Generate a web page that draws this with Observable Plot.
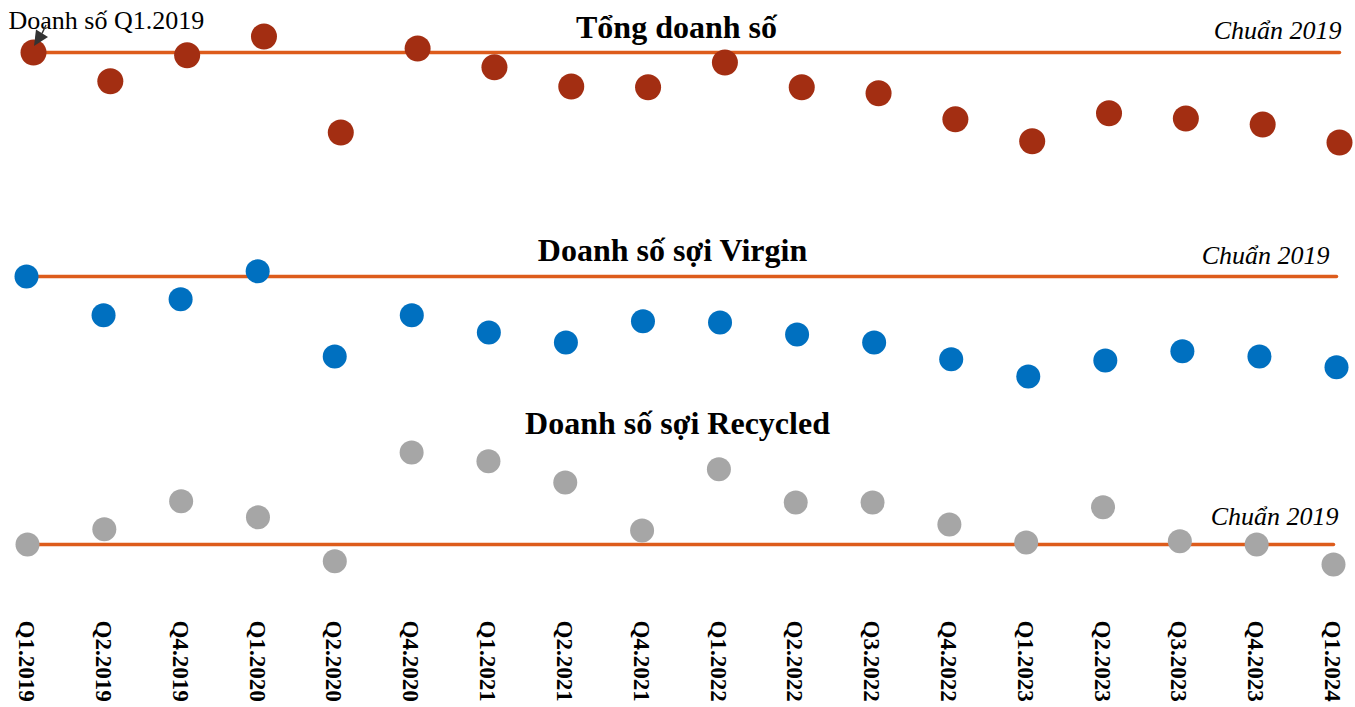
<!DOCTYPE html>
<html>
<head>
<meta charset="utf-8">
<script src="https://cdn.jsdelivr.net/npm/d3@7"></script>
<script src="https://cdn.jsdelivr.net/npm/@observablehq/plot@0.6"></script>
<style>
  html, body { margin: 0; padding: 0; background: #fff; }
  #chart svg { display: block; }
</style>
</head>
<body>
<div id="chart"></div>
<script>
// Quarters shown on the x axis
const quarters = ["Q1.2019","Q2.2019","Q4.2019","Q1.2020","Q2.2020","Q4.2020","Q1.2021","Q2.2021","Q4.2021","Q1.2022","Q2.2022","Q3.2022","Q4.2022","Q1.2023","Q2.2023","Q3.2023","Q4.2023","Q1.2024"];
// Index values (2019 benchmark = 100)
const totalSales    = [100, 92.8, 99.3, 104, 80, 101, 96.3, 91.5, 91.3, 97.5, 91.3, 89.8, 83.3, 77.8, 84.8, 83.5, 82, 77.5];
const virginSales   = [100, 90.3, 94.3, 101.3, 80, 90.3, 86, 83.5, 88.8, 88.5, 85.5, 83.5, 79.3, 75, 79, 81.3, 80, 77.3];
const recycledSales = [100, 103.8, 110.8, 106.8, 95.8, 123, 120.8, 115.5, 103.5, 118.8, 110.5, 110.5, 105, 100.5, 109.3, 100.8, 100, 95];
const benchmark = 100;
const benchLabel = "Chuẩn 2019";
const titles = ["Tổng doanh số", "Doanh số sợi Virgin", "Doanh số sợi Recycled"];
const annotation = "Doanh số Q1.2019";

const FONT = "'Liberation Serif', 'Times New Roman', Times, serif";
const LINE = "#DD5C1C";
const W = 1355;

function panel({values, color, r, title, height, domain, marginLeft, marginRight, marginBottom, axis, titleDx, titleDy, benchDx, benchDy, extra = []}) {
  const data = quarters.map((q, i) => ({q, v: values[i]}));
  return Plot.plot({
    width: W,
    height,
    marginTop: 0,
    marginBottom,
    marginLeft,
    marginRight,
    style: {fontFamily: FONT, background: "#fff", overflow: "visible"},
    x: {type: "point", domain: quarters, padding: 0, round: false, axis: null},
    y: {domain, axis: null},
    marks: [
      Plot.line(quarters, {x: d => d, y: () => benchmark, stroke: LINE, strokeWidth: 3.5}),
      Plot.dot(data, {x: "q", y: "v", r, fill: color}),
      Plot.text([title], {frameAnchor: "top", lineAnchor: "bottom", dx: titleDx, dy: titleDy, text: d => d, fontSize: 32, fontWeight: "bold", fill: "#000"}),
      Plot.text([benchmark], {y: d => d, frameAnchor: "right", textAnchor: "end", lineAnchor: "bottom", dx: benchDx, dy: benchDy, text: () => benchLabel, fontSize: 26, fontStyle: "italic", fill: "#000"}),
      axis ? Plot.axisX({tickRotate: 90, tickSize: 0, tickPadding: 20, fontSize: 23, fontWeight: "bold", fill: "#000", fontFamily: FONT, label: null, dx: -1}) : null,
      ...extra
    ]
  });
}

// annotation arrow anchored at the first data point of the total panel
function arrowMark(index, scales) {
  const x = scales.x(quarters[0]);
  const y = scales.y(totalSales[0]);
  const g = document.createElementNS("http://www.w3.org/2000/svg", "g");
  g.innerHTML =
    `<line x1="${x + 13}" y1="${y - 27}" x2="${x + 9}" y2="${y - 18.5}" stroke="#333" stroke-width="1.5"/>` +
    `<path d="M${x + 1},${y - 6} L${x + 15},${y - 15} L${x + 3},${y - 22.5} Z" fill="#333"/>`;
  return g;
}

const first = [{q: quarters[0], v: totalSales[0]}];

const p1 = panel({
  values: totalSales, color: "#A32E12", r: 13, title: titles[0],
  height: 200, domain: [63, 113], marginLeft: 33, marginRight: 16, marginBottom: 0,
  titleDx: -10, titleDy: 37, benchDx: 2, benchDy: -14,
  extra: [
    Plot.text(first, {x: "q", y: "v", text: () => annotation, textAnchor: "start", lineAnchor: "bottom", dx: -25, dy: -24, fontSize: 26, fill: "#000"}),
    arrowMark
  ]
});
const p2 = panel({
  values: virginSales, color: "#0070C0", r: 12, title: titles[1],
  height: 190, domain: [71.5, 119], marginLeft: 26, marginRight: 19, marginBottom: 0,
  titleDx: -9, titleDy: 60, benchDx: -7, benchDy: -13
});
const p3 = panel({
  values: recycledSales, color: "#A6A6A6", r: 12, title: titles[2],
  height: 317, domain: [86, 138.5], marginLeft: 27, marginRight: 22, marginBottom: 107,
  axis: true, titleDx: -3, titleDy: 43, benchDx: 5, benchDy: -20
});

document.getElementById("chart").append(p1, p2, p3);
</script>
</body>
</html>
